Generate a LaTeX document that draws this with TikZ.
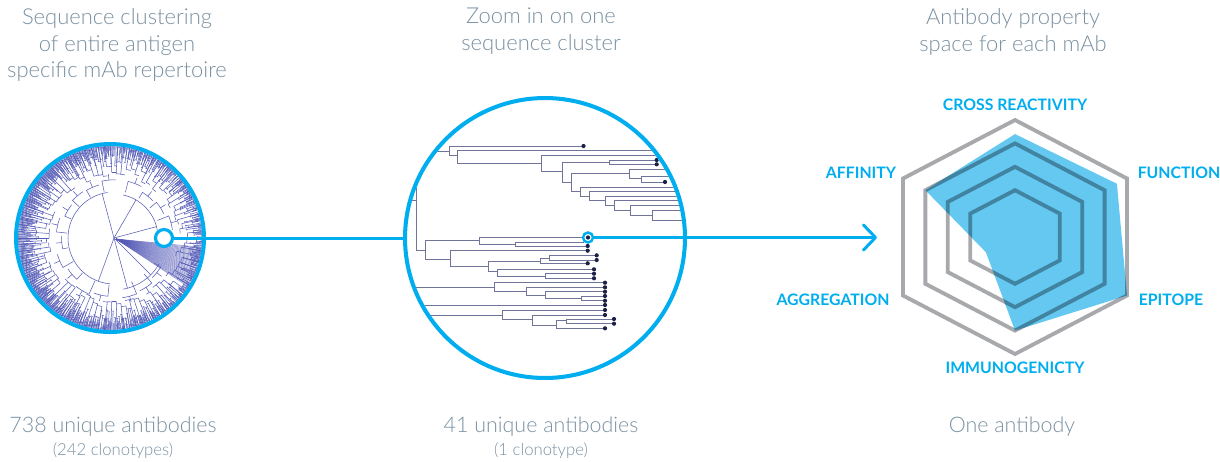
\documentclass[tikz,border=0pt]{standalone}
\usepackage{fontspec}
\setmainfont{Lato}
\newfontfamily\thinfont{Lato Light}
\usetikzlibrary{positioning}
\usetikzlibrary{arrows.meta}
\definecolor{skyblue}{RGB}{0,174,239}
\definecolor{titlegray}{RGB}{122,144,160}
\definecolor{ringgray}{RGB}{167,169,172}
\definecolor{treeline}{RGB}{112,116,152}
\definecolor{leafnavy}{RGB}{28,31,70}
\definecolor{radialblue}{RGB}{84,90,182}
\definecolor{propfill}{RGB}{100,200,240}
\tikzset{
	headtext/.style={font=\thinfont\fontsize{12.5}{15.3}\selectfont, text=titlegray, align=center},
	counttext/.style={font=\thinfont\fontsize{12.2}{15}\selectfont, text=titlegray},
	subtext/.style={font=\thinfont\fontsize{9.5}{11}\selectfont, text=titlegray},
	axislabel/.style={font=\bfseries\fontsize{9}{11}\selectfont, text=skyblue},
	bigring/.style={circle, draw=skyblue, line width=2.3pt, inner sep=0pt},
	selring/.style={circle, draw=skyblue, fill=white, inner sep=0pt},
	link/.style={draw=skyblue, line width=1.7pt},
	branch/.style={draw=treeline, line width=0.55pt},
	hexring/.style={draw=ringgray, line width=2.2pt},
	radial/.style={draw=radialblue, line width=0.3pt}
}
\newcommand{\clade}[5]{\draw[branch] (#4,#2) -- (#1,#2) -- (#1,#3) -- (#5,#3);}
\newcommand{\leafdot}[2]{\fill[leafnavy] (#1,#2) circle[radius=2.1];}

\begin{document}
\begin{tikzpicture}[x=0.02cm, y=-0.02cm]
	\useasboundingbox (0,0) rectangle (1220,461);
	
	% Titles
	\node[headtext] (reptitle) at (117,45) {Sequence clustering\\of entire antigen\\specific mAb repertoire};
	\node[headtext] (zoomtitle) at (541,31.5) {Zoom in on one\\sequence cluster};
	\node[headtext] (proptitle) at (1013,31.5) {Antibody property\\space for each mAb};
	
	% repertoire tree
	\begin{scope}[shift={(114,238)}]
		\clip (-4,0) circle[radius=92];
		\pgfmathsetseed{11}
		% inner clades
		\draw[radial] (95:46) arc[start angle=95, end angle=262, radius=46];
		\draw[radial] (282:44) arc[start angle=282, end angle=350, radius=44];
		\draw[radial] (30:52) arc[start angle=30, end angle=80, radius=52];
		\draw[radial] (0,0) -- (255:46);
		\draw[radial] (0,0) -- (300:44);
		\draw[radial] (0,0) -- (345:44);
		\draw[radial] (0,0) -- (75:52);
		\draw[radial] (0,0) -- (110:46);
		\draw[radial] (0,0) -- (45:52);
		\foreach \a in {96,114,...,258, 284,302,...,338, 32,50,68}{
			\pgfmathsetmacro\r{52+10*rnd}
			\draw[radial] (\a:47) -- (\a:\r) arc[start angle=\a, delta angle=14, radius=\r];
			\draw[radial] (\a+7:\r) -- (\a+7:\r+6);
		}
		% outer clades
		\foreach \a in {0,4,...,356}{
			\pgfmathsetmacro\r{62+12*rnd}
			\draw[radial] (\a:\r) arc[start angle=\a, delta angle=4, radius=\r];
			\draw[radial] (\a:\r) -- (\a:96);
		}
		\foreach \a in {0,1.5,...,358.5}{
			\pgfmathsetmacro\r{72+12*rnd}
			\draw[radial] (\a:\r) arc[start angle=\a, delta angle=1.5, radius=\r];
			\draw[radial] (\a+0.75:\r) -- (\a+0.75:96);
		}
		\foreach \a in {0,0.6,...,359.4}{
			\pgfmathsetmacro\r{80+12*rnd}
			\draw[radial] (\a:\r) -- (\a:96);
		}
		% dense fan
		\foreach \a in {6,6.8,...,34}{
			\draw[radial, opacity=0.7] (2,1) -- (\a:96);
		}
	\end{scope}
	\node[bigring, minimum size=3.76cm] (repcircle) at (110,238) {};
	\node[selring, minimum size=0.34cm, line width=1.8pt] (selring) at (164,238) {};
	
	% cluster tree
	\begin{scope}
		\clip (545,238) circle[radius=138];
		\draw[branch] (380,200) -- (416,200);
		\clade{416}{150}{250}{416}{425.7}
		\draw[branch] (380,151) -- (449,151);
		\clade{449}{146}{155.5}{583.5}{457.7}
		\clade{457.7}{150.7}{163.3}{700}{541}
		\clade{541}{155}{171.7}{700}{562.3}
		\clade{562.3}{162.3}{182.3}{609.3}{571}
		\clade{609.3}{160}{164.3}{656.7}{656.7}
		\clade{571}{173.3}{191.7}{629}{580}
		\clade{629}{169.3}{178.3}{700}{641}
		\clade{641}{176}{182}{700}{665}
		\clade{580}{187.3}{196}{700}{589}
		\clade{589}{191.7}{200.7}{700}{605}
		\clade{605}{196}{205.3}{700}{614.3}
		\clade{614.3}{200.7}{210}{700}{630.7}
		\clade{630.7}{205.3}{215}{700}{652.3}
		\clade{652.3}{210}{220.7}{700}{700}
		\leafdot{583.5}{146}
		\leafdot{656.7}{160}
		\leafdot{656.7}{164.3}
		\leafdot{665}{182}
		
		\clade{425.7}{240.7}{259.3}{479}{450}
		\clade{479}{237.5}{244}{584}{515}
		\clade{515}{242}{246}{584}{587.7}
		\clade{450}{250.7}{266.7}{587.7}{488.3}
		\clade{488.3}{261.7}{271.3}{540}{497.3}
		\clade{540}{258.3}{263.3}{549}{587.7}
		\clade{549}{255.3}{260}{596.7}{596.7}
		\clade{497.3}{269.3}{276}{594}{545.7}
		\clade{545.7}{273.7}{278.3}{594}{594}
		\leafdot{587.7}{246}
		\leafdot{587.7}{250.7}
		\leafdot{587.7}{263.3}
		\leafdot{596.7}{255.3}
		\leafdot{596.7}{260}
		\leafdot{594}{269.3}
		\leafdot{594}{273.7}
		\leafdot{594}{278.3}
		
		\draw[branch] (380,287) -- (494,287);
		\clade{494}{282.7}{291.7}{605}{526.7}
		\clade{526.7}{287.3}{295.7}{605}{545}
		\clade{545}{291.7}{298.3}{605}{581}
		\clade{581}{296}{300.7}{605}{605}
		\draw[branch] (380,305) -- (605,305);
		\draw[branch] (380,315) -- (502.3,315);
		\clade{502.3}{310}{319.3}{605}{532.7}
		\clade{532.7}{315}{325}{605}{556.7}
		\clade{556.7}{320.7}{328.3}{566}{605}
		\clade{566}{319}{323.7}{614}{614}
		\foreach \y in {282.7,287.3,291.7,296,300.7,305,310,315,328.3}{
			\leafdot{605}{\y}
		}
		\leafdot{614}{319}
		\leafdot{614}{323.7}
	\end{scope}
	\node[bigring, minimum size=5.6cm] (clustcircle) at (545,238) {};
	\coordinate (arrowend) at (877,237.5);
	
	\draw[link] (selring.east) -- (clustcircle.west);
	\node[selring, minimum size=0.2cm, line width=1.4pt] (hlring) at (588,237.5) {};
	\draw[link, -{Straight Barb[length=0.24cm, width=0.5cm, line cap=round, line join=round]}] (hlring.east) -- (arrowend);
	\leafdot{588}{237.5}
	
	% property space
	\begin{scope}[shift={(1015,237)}, x=2.587cm, y=2.34cm]
		\foreach \s in {1,0.8,0.6,0.4}{
			\draw[hexring] (90:\s) -- (30:\s) -- (-30:\s) -- (-90:\s) -- (-150:\s) -- (150:\s) -- cycle;
		}
		\fill[propfill, blend mode=multiply] (90:0.88) -- (30:0.91) -- (-30:1) -- (-90:0.8) -- (-150:0.26) -- (150:0.8) -- cycle;
	\end{scope}
	\node[axislabel] (crosslab) at (1015,105) {CROSS REACTIVITY};
	\node[axislabel] (funclab) at (1179,173) {FUNCTION};
	\node[axislabel] (epilab) at (1171,300) {EPITOPE};
	\node[axislabel] (immunolab) at (1015,368) {IMMUNOGENICTY};
	\node[axislabel] (aggrlab) at (833,300) {AGGREGATION};
	\node[axislabel] (affinlab) at (861,173) {AFFINITY};
	
	% counts
	\node[counttext] (repcount) at (113,427) {738 unique antibodies};
	\node[subtext] (repclono) at (113,451) {(242 clonotypes)};
	\node[counttext] (clustcount) at (541,427) {41 unique antibodies};
	\node[subtext] (clustclono) at (541,451) {(1 clonotype)};
	\node[counttext] (propcount) at (1012,427) {One antibody};
\end{tikzpicture}
\end{document}
